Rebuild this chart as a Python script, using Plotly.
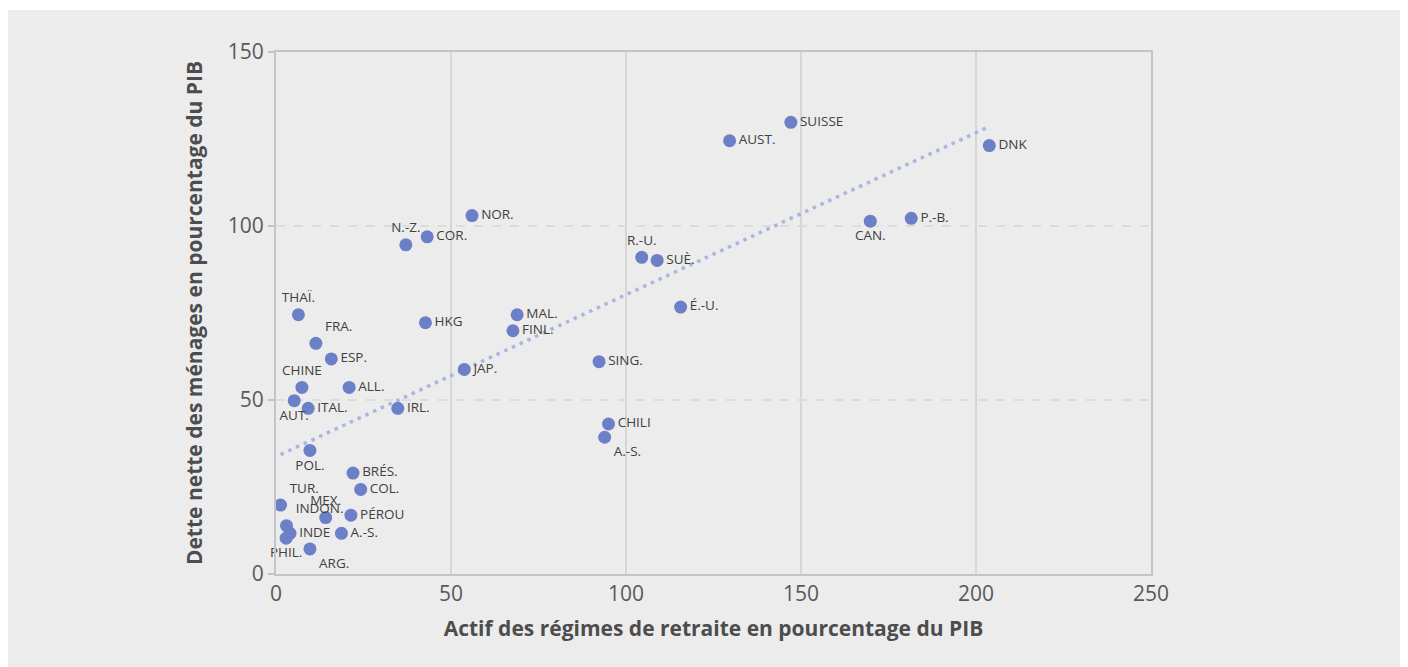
import numpy as np
import plotly.graph_objects as go

# Data
countries = ["SUISSE", "AUST.", "DNK", "CAN.", "P.-B.", "R.-U.", "SUÈ.", "É.-U.",
             "SING.", "CHILI", "A.-S.", "NOR.", "N.-Z.", "COR.", "HKG", "MAL.",
             "FINL.", "JAP.", "THAÏ.", "FRA.", "ESP.", "CHINE", "ALL.", "AUT.",
             "ITAL.", "IRL.", "POL.", "BRÉS.", "COL.", "TUR.", "MEX.", "PÉROU",
             "INDON.", "INDE", "PHIL.", "A.-S.", "ARG."]
pension_assets = [147.1, 129.6, 203.8, 169.8, 181.5, 104.5, 108.9, 115.6,
                  92.3, 95.0, 93.9, 56.0, 37.1, 43.2, 42.7, 68.9,
                  67.7, 53.8, 6.4, 11.4, 15.8, 7.4, 20.9, 5.2,
                  9.2, 34.8, 9.7, 22.0, 24.2, 1.3, 14.2, 21.4,
                  3.0, 4.0, 2.9, 18.7, 9.7]
household_debt = [129.8, 124.5, 123.1, 101.4, 102.2, 91.0, 90.1, 76.7,
                  61.0, 43.1, 39.3, 103.0, 94.6, 96.9, 72.2, 74.5,
                  69.9, 58.8, 74.5, 66.3, 61.8, 53.6, 53.6, 49.8,
                  47.6, 47.6, 35.5, 29.0, 24.3, 19.8, 16.2, 16.9,
                  13.9, 11.7, 10.3, 11.7, 7.2]
x_ticks = [0, 50, 100, 150, 200, 250]
y_ticks = [0, 50, 100, 150]
x_title = "Actif des régimes de retraite en pourcentage du PIB"
y_title = "Dette nette des ménages en pourcentage du PIB"

# label placement (style), one per point
text_pos = ["middle right", "middle right", "middle right", "bottom center",
            "middle right", "top center", "middle right", "middle right",
            "middle right", "middle right", "bottom right", "middle right",
            "top center", "middle right", "middle right", "middle right",
            "middle right", "middle right", "top center", "top right",
            "middle right", "top center", "middle right", "bottom center",
            "middle right", "middle right", "bottom center", "middle right",
            "middle right", "top right", "top center", "middle right",
            "top right", "middle right", "bottom center", "middle right",
            "bottom right"]

# linear trend (least squares)
xa = np.array(pension_assets)
ya = np.array(household_debt)
slope, intercept = np.polyfit(xa, ya, 1)
trend_x = np.array([xa.min(), xa.max()])
trend_y = slope * trend_x + intercept

BG = "#ececec"
W, H = 1400, 659
L, R, T, B = 268, 257, 44, 93
pw, ph = W - L - R, H - T - B

fig = go.Figure()
fig.add_trace(go.Scatter(
    x=trend_x, y=trend_y, mode="lines",
    line=dict(color="#a9b6de", width=3.5, dash="3.5px,5px"),
    hoverinfo="skip", showlegend=False))
fig.add_trace(go.Scatter(
    x=pension_assets, y=household_debt, mode="markers+text",
    text=countries, textposition=text_pos,
    textfont=dict(family="Open Sans", size=13.5, color="#404040"),
    marker=dict(size=13, color="#6b80c6", line=dict(width=0)),
    showlegend=False, cliponaxis=False))

# thin white strip at the very top
fig.add_shape(type="rect", xref="paper", yref="paper",
              x0=-L / pw, x1=(W - L) / pw,
              y0=(ph + T - 2) / ph, y1=(ph + T) / ph,
              fillcolor="white", line=dict(width=0), layer="below")

fig.update_layout(
    width=W, height=H,
    margin=dict(l=L, r=R, t=T, b=B),
    paper_bgcolor=BG, plot_bgcolor=BG,
    font=dict(family="Open Sans", color="#595959"),
    xaxis=dict(range=[0, 250], tickvals=x_ticks, showgrid=True,
               gridcolor="#d6d6d6", gridwidth=1.5, zeroline=False,
               showline=True, linecolor="#c4c4c4", linewidth=2, mirror=True,
               ticks="", tickfont=dict(size=21, color="#595959"),
               title=dict(text="<b>" + x_title + "</b>", standoff=15,
                          font=dict(size=21, color="#4d4d4d"))),
    yaxis=dict(range=[0, 150], tickvals=y_ticks, showgrid=True,
               gridcolor="#dcdcdc", gridwidth=1.5, griddash="dash", zeroline=False,
               showline=True, linecolor="#c4c4c4", linewidth=2, mirror=True,
               ticks="outside", ticklen=6, tickcolor="#c4c4c4", tickwidth=1.5,
               tickfont=dict(size=21, color="#595959"),
               title=dict(text="<b>" + y_title + "</b>", standoff=19,
                          font=dict(size=21, color="#4d4d4d"))),
)

fig.write_html("out.html")
